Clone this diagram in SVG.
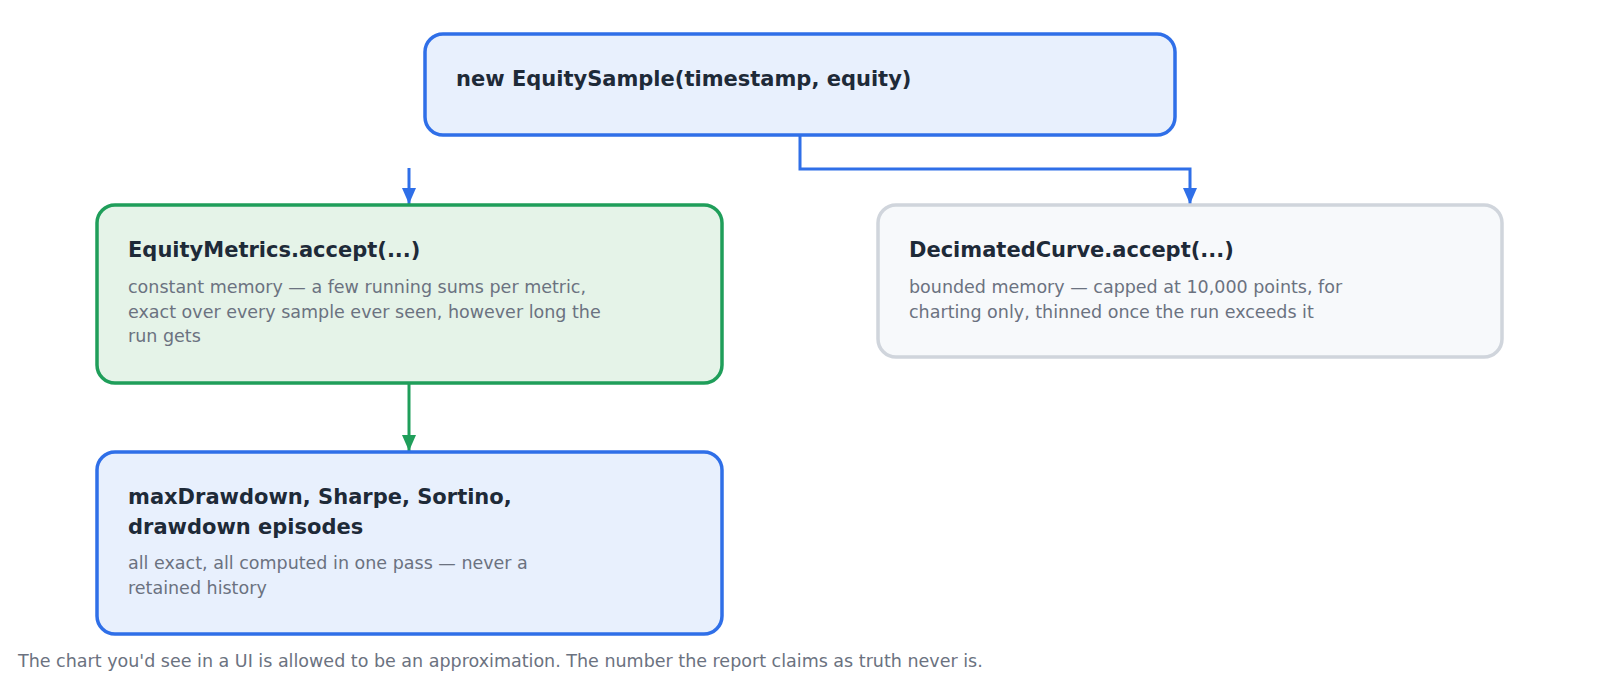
<svg xmlns="http://www.w3.org/2000/svg" width="1600" height="700" viewBox="0 0 1600 700">
<style>
.t{font-family:"DejaVu Sans",sans-serif;font-weight:bold;font-size:21px;fill:#1e2a38}
.b{font-family:"DejaVu Sans",sans-serif;font-size:17.5px;fill:#6b7280}
.blue{fill:#e8f0fd;stroke:#2f6fe8;stroke-width:3.5}
.green{fill:#e5f3e8;stroke:#1f9e5a;stroke-width:3.5}
.gray{fill:#f7f9fb;stroke:#d0d5dc;stroke-width:3.5}
.c{fill:none;stroke-width:3}
</style>
<defs>
<marker id="ab" markerWidth="16" markerHeight="14" refX="16" refY="7" orient="auto" markerUnits="userSpaceOnUse"><path d="M0,0 L16,7 L0,14 Z" fill="#2f6fe8"/></marker>
<marker id="ag" markerWidth="16" markerHeight="14" refX="16" refY="7" orient="auto" markerUnits="userSpaceOnUse"><path d="M0,0 L16,7 L0,14 Z" fill="#1f9e5a"/></marker>
</defs>
<rect width="1600" height="700" fill="#fff"/>
<g id="connectors">
<path class="c" stroke="#2f6fe8" d="M800,135 V169 H1190 V204" marker-end="url(#ab)"/>
<path class="c" stroke="#2f6fe8" d="M409,168 V204" marker-end="url(#ab)"/>
<path class="c" stroke="#1f9e5a" d="M409,383 V451" marker-end="url(#ag)"/>
</g>
<g id="sample"><rect class="blue" x="425" y="34" width="750" height="101" rx="18"/><text class="t" x="456" y="86">new EquitySample(timestamp, equity)</text></g>
<g id="metrics"><rect class="green" x="97" y="205" width="625" height="178" rx="18"/><text class="t" x="128" y="257">EquityMetrics.accept(...)</text>
<text class="b" x="128" y="293">constant memory — a few running sums per metric,</text>
<text class="b" x="128" y="317.5">exact over every sample ever seen, however long the</text>
<text class="b" x="128" y="342">run gets</text></g>
<g id="curve"><rect class="gray" x="878" y="205" width="624" height="152" rx="18"/><text class="t" x="909" y="257">DecimatedCurve.accept(...)</text>
<text class="b" x="909" y="293">bounded memory — capped at 10,000 points, for</text>
<text class="b" x="909" y="317.5">charting only, thinned once the run exceeds it</text></g>
<g id="results"><rect class="blue" x="97" y="452" width="625" height="182" rx="18"/><text class="t" x="128" y="504">maxDrawdown, Sharpe, Sortino,</text><text class="t" x="128" y="534">drawdown episodes</text>
<text class="b" x="128" y="569">all exact, all computed in one pass — never a</text>
<text class="b" x="128" y="593.5">retained history</text></g>
<text class="b" x="18" y="667">The chart you'd see in a UI is allowed to be an approximation. The number the report claims as truth never is.</text>
</svg>
